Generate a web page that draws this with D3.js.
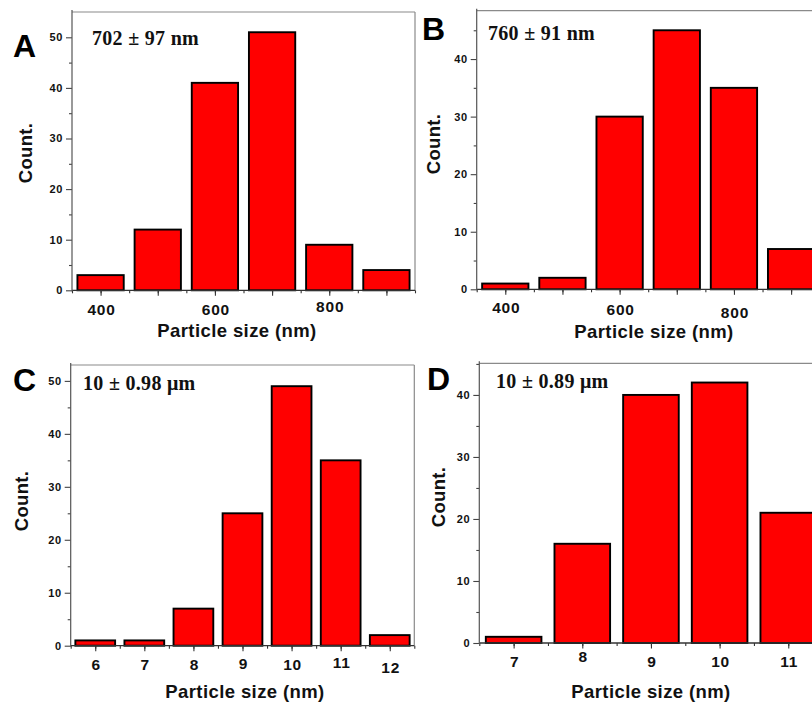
<!DOCTYPE html>
<html>
<head>
<meta charset="utf-8">
<script src="https://cdn.jsdelivr.net/npm/d3@7"></script>
<style>
  html, body { margin: 0; padding: 0; background: #fff; }
  svg { display: block; }
  .sans { font-family: "Liberation Sans", Arial, sans-serif; font-weight: bold; }
  .serif { font-family: "Liberation Serif", "Times New Roman", serif; font-weight: bold; }
</style>
</head>
<body>
<svg id="chart" width="812" height="704"></svg>
<script>
// ---------------- DATA ----------------
const panelLetters = ["A", "B", "C", "D"];
const annotations = ["702 \u00B1 97 nm", "760 \u00B1 91 nm", "10 \u00B1 0.98 \u03BCm", "10 \u00B1 0.89 \u03BCm"];
const xAxisTitle = "Particle size (nm)";
const yAxisTitle = "Count.";

const sizesA = [400, 500, 600, 700, 800, 900];
const countsA = [3, 12, 41, 51, 9, 4];
const sizesB = [400, 500, 600, 700, 800, 900];
const countsB = [1, 2, 30, 45, 35, 7];
const sizesC = [6, 7, 8, 9, 10, 11, 12];
const countsC = [1, 1, 7, 25, 49, 35, 2];
const sizesD = [7, 8, 9, 10, 11];
const countsD = [1, 16, 40, 42, 21];

const xTickLabelsA = [400, 600, 800];
const xTickLabelsB = [400, 600, 800];
const xTickLabelsC = [6, 7, 8, 9, 10, 11, 12];
const xTickLabelsD = [7, 8, 9, 10, 11];

const yTicksA = [0, 10, 20, 30, 40, 50];
const yTicksB = [0, 10, 20, 30, 40];
const yTicksC = [0, 10, 20, 30, 40, 50];
const yTicksD = [0, 10, 20, 30, 40];

// ---------------- LAYOUT ----------------
const panels = [
  { letter: panelLetters[0], note: annotations[0], sizes: sizesA, counts: countsA, xLabels: xTickLabelsA, yTicks: yTicksA,
    xDomain: [350, 950], yMax: 55, bin: 100,
    box: { l: 72, t: 12, r: 415, b: 290.3 },
    letterPos: [13, 57], notePos: [92, 45], yTitlePos: [32, 153], xTitlePos: [237, 337], xLabBase: [315, 315, 312] },
  { letter: panelLetters[1], note: annotations[1], sizes: sizesB, counts: countsB, xLabels: xTickLabelsB, yTicks: yTicksB,
    xDomain: [350, 950], yMax: 48.4, bin: 100,
    box: { l: 476.7, t: 10.7, r: 819.7, b: 289.3 },
    letterPos: [422, 40], notePos: [488, 40], yTitlePos: [440, 144], xTitlePos: [654, 338], xLabBase: [313, 315, 318] },
  { letter: panelLetters[2], note: annotations[2], sizes: sizesC, counts: countsC, xLabels: xTickLabelsC, yTicks: yTicksC,
    xDomain: [5.5, 12.5], yMax: 53, bin: 1,
    box: { l: 70.7, t: 365, r: 414.3, b: 645.7 },
    letterPos: [13, 391], notePos: [83, 390], yTitlePos: [28, 501], xTitlePos: [245, 698], xLabBase: [670, 670, 670, 669, 670, 668, 673] },
  { letter: panelLetters[3], note: annotations[3], sizes: sizesD, counts: countsD, xLabels: xTickLabelsD, yTicks: yTicksD,
    xDomain: [6.5, 11.5], yMax: 45.1, bin: 1,
    box: { l: 479.3, t: 363.3, r: 822.6, b: 643 },
    letterPos: [427, 390], notePos: [496, 388], yTitlePos: [445, 497], xTitlePos: [651, 698], xLabBase: [667, 662, 667, 667, 667] }
];

const svg = d3.select("#chart");

panels.forEach(p => {
  const b = p.box;
  const x = d3.scaleLinear().domain(p.xDomain).range([b.l, b.r]);
  const y = d3.scaleLinear().domain([0, p.yMax]).range([b.b, b.t]);
  const g = svg.append("g");

  // frame (top + right)
  g.append("line").attr("x1", b.l).attr("x2", b.r).attr("y1", b.t).attr("y2", b.t)
    .attr("stroke", "#8a8a8a").attr("stroke-width", 1.2);
  g.append("line").attr("x1", b.r).attr("x2", b.r).attr("y1", b.t).attr("y2", b.b)
    .attr("stroke", "#8a8a8a").attr("stroke-width", 1.2);

  // bars
  const half = p.bin * 0.405;
  g.selectAll("rect.bar").data(p.sizes.map((s, i) => ({ s, c: p.counts[i] })))
    .enter().append("rect").attr("class", "bar")
    .attr("x", d => x(d.s - half))
    .attr("width", d => x(d.s + half) - x(d.s - half))
    .attr("y", d => y(d.c))
    .attr("height", d => y(0) - y(d.c))
    .attr("fill", "#ff0000")
    .attr("stroke", "#000")
    .attr("stroke-width", 1.9);

  // x axis ticks
  const xMinor = d3.range(Math.ceil(p.xDomain[0] / (p.bin / 2)) * (p.bin / 2), p.xDomain[1] + 1e-9, p.bin / 2);
  const xMajor = xMinor.filter(v => Math.abs(v / p.bin - Math.round(v / p.bin)) < 1e-6);
  const xAxisMinor = d3.axisBottom(x).tickValues(xMinor).tickSize(3).tickFormat("");
  const xAxisMajor = d3.axisBottom(x).tickValues(xMajor).tickSize(5.5).tickFormat("");
  const gx1 = g.append("g").attr("transform", `translate(0,${b.b})`).call(xAxisMinor);
  const gx2 = g.append("g").attr("transform", `translate(0,${b.b})`).call(xAxisMajor);
  [gx1, gx2].forEach(a => {
    a.select(".domain").remove();
    a.selectAll(".tick line").attr("stroke", "#333").attr("stroke-width", 1.1);
  });
  g.append("line").attr("x1", b.l).attr("x2", b.r).attr("y1", b.b).attr("y2", b.b)
    .attr("stroke", "#333").attr("stroke-width", 1.3);

  // y axis
  const yMinor = d3.range(5, p.yMax, 10);
  const yAxisMinor = d3.axisLeft(y).tickValues(yMinor).tickSize(3).tickFormat("");
  const yAxisMajor = d3.axisLeft(y).tickValues(p.yTicks).tickSize(6).tickFormat("");
  const gy1 = g.append("g").attr("transform", `translate(${b.l},0)`).call(yAxisMinor);
  const gy2 = g.append("g").attr("transform", `translate(${b.l},0)`).call(yAxisMajor);
  [gy1, gy2].forEach(a => {
    a.select(".domain").remove();
    a.selectAll(".tick line").attr("stroke", "#444").attr("stroke-width", 1.1);
  });
  g.append("line").attr("x1", b.l).attr("x2", b.l).attr("y1", b.t - 2).attr("y2", b.b + 1)
    .attr("stroke", "#555").attr("stroke-width", 1.2);

  // y tick labels
  g.selectAll("text.ylab").data(p.yTicks).enter().append("text")
    .attr("class", "sans")
    .attr("x", b.l - 9)
    .attr("y", d => y(d))
    .attr("dy", "0.36em")
    .attr("text-anchor", "end")
    .attr("font-size", 11)
    .attr("letter-spacing", 0.6)
    .attr("fill", "#111")
    .text(d => d);

  // x tick labels
  g.selectAll("text.xlab").data(p.xLabels).enter().append("text")
    .attr("class", "sans")
    .attr("x", d => x(d) + 1)
    .attr("y", (d, i) => p.xLabBase[i])
    .attr("text-anchor", "middle")
    .attr("font-size", 15.5)
    .attr("letter-spacing", 0.8)
    .attr("fill", "#111")
    .text(d => d);

  // axis titles
  g.append("text").attr("class", "sans")
    .attr("x", p.xTitlePos[0]).attr("y", p.xTitlePos[1])
    .attr("text-anchor", "middle").attr("font-size", 18.5).attr("letter-spacing", 0.4)
    .attr("fill", "#111").text(xAxisTitle);
  g.append("text").attr("class", "sans")
    .attr("transform", `translate(${p.yTitlePos[0]},${p.yTitlePos[1]}) rotate(-90)`)
    .attr("text-anchor", "middle").attr("font-size", 18.5).attr("letter-spacing", 0.3)
    .attr("fill", "#111").text(yAxisTitle);

  // panel letter
  g.append("text").attr("class", "sans")
    .attr("x", p.letterPos[0]).attr("y", p.letterPos[1])
    .attr("font-size", 32).attr("fill", "#000").text(p.letter);

  // annotation
  g.append("text").attr("class", "serif")
    .attr("x", p.notePos[0]).attr("y", p.notePos[1])
    .attr("font-size", 20).attr("letter-spacing", 0.3)
    .attr("fill", "#111").text(p.note);
});
</script>
</body>
</html>
